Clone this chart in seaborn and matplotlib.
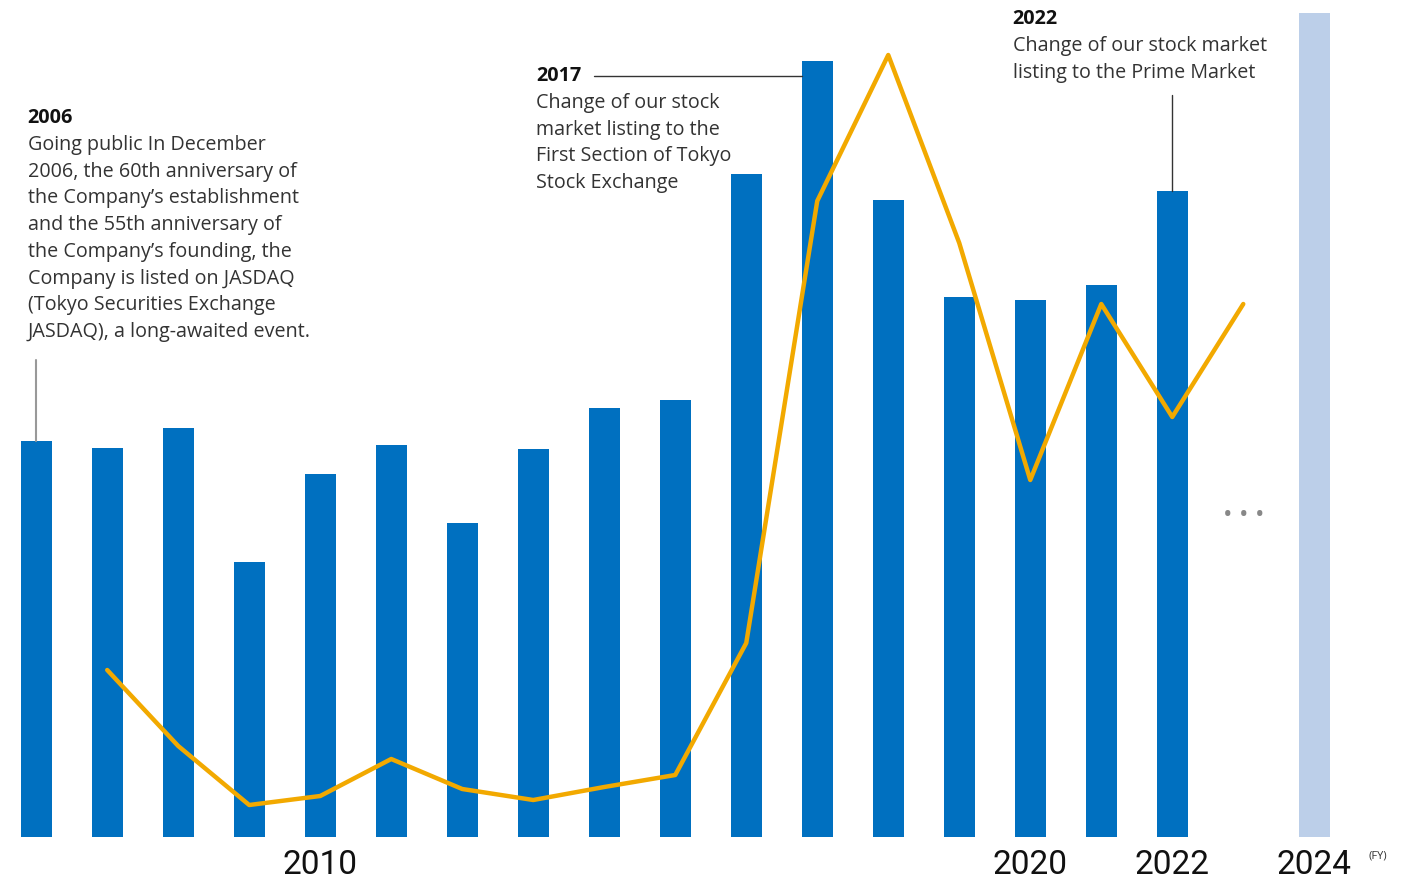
import matplotlib
matplotlib.use("Agg")
import numpy as np
import pandas as pd
import seaborn as sns
from matplotlib import pyplot as plt

# bars (relative heights)
bar_years = [2006, 2007, 2008, 2009, 2010, 2011, 2012, 2013, 2014, 2015,
             2016, 2017, 2018, 2019, 2020, 2021, 2022, 2024]
bar_values = [396, 389, 409, 275, 363, 392, 314, 388, 429, 437,
              663, 776, 637, 540, 537, 552, 646, 824]
bar_kind = ['actual'] * 17 + ['target']

# orange line
line_years = [2007, 2008, 2009, 2010, 2011, 2012, 2013, 2014, 2015,
              2016, 2017, 2018, 2019, 2020, 2021, 2022, 2023]
line_values = [167, 91, 32, 41, 78, 48, 37, 50, 62,
               194, 636, 782, 594, 357, 533, 420, 533]

tick_years = [2010, 2020, 2022, 2024]

blue = '#0070c0'
light = '#bccfe9'
orange = '#f2a900'

sns.set_style('white')
plt.rcParams['font.family'] = ['Open Sans', 'DejaVu Sans']

fig = plt.figure(figsize=(14.08, 8.81), dpi=100)
ax = fig.add_axes([0, 44 / 881, 1, 837 / 881])

df = pd.DataFrame({'year': bar_years, 'value': bar_values, 'kind': bar_kind})
sns.barplot(data=df, x='year', y='value', hue='kind', native_scale=True,
            dodge=False, width=0.44, palette={'actual': blue, 'target': light},
            saturation=1, legend=False, ax=ax, linewidth=0)
sns.lineplot(x=line_years, y=line_values, color=orange, lw=3.2, ax=ax)

ax.set_xlim(2005.49, 2025.32)
ax.set_ylim(0, 837)
sns.despine(ax=ax, left=True, bottom=True)
ax.set_yticks([])
ax.set_xticks(tick_years)
ax.set_xticklabels([str(y) for y in tick_years], fontsize=24,
                   family=['Roboto', 'DejaVu Sans'], color='#111111')
ax.tick_params(axis='x', length=0, pad=9)
ax.set_xlabel('')
ax.set_ylabel('')
ax.text(2024.9, -19, '(FY)', fontsize=8, color='#333333', ha='center', va='center')

# "..." after 2022
ax.text(2023, 321, '\u2022 \u2022 \u2022', fontsize=18, color='#888888',
        ha='center', va='center')

# annotations
fs = 14.2
txt = '#333333'
ax.plot([2006, 2006], [396, 477], color='#999999', lw=1.5)
ax.text(2005.88, 719, '2006', fontsize=fs, weight='bold', color='#111111', va='center')
lines06 = ['Going public In December', '2006, the 60th anniversary of',
           'the Company\u2019s establishment', 'and the 55th anniversary of',
           'the Company\u2019s founding, the', 'Company is listed on JASDAQ',
           '(Tokyo Securities Exchange', 'JASDAQ), a long-awaited event.']
for i, s in enumerate(lines06):
    ax.text(2005.88, 692 - i * 26.7, s, fontsize=fs, color=txt, va='center')

ax.plot([2013.86, 2016.79], [761, 761], color='#333333', lw=1)
ax.text(2013.04, 761, '2017', fontsize=fs, weight='bold', color='#111111', va='center')
lines17 = ['Change of our stock', 'market listing to the',
           'First Section of Tokyo', 'Stock Exchange']
for i, s in enumerate(lines17):
    ax.text(2013.04, 734 - i * 26.7, s, fontsize=fs, color=txt, va='center')

ax.plot([2022, 2022], [646, 742], color='#333333', lw=1)
ax.text(2019.75, 818, '2022', fontsize=fs, weight='bold', color='#111111', va='center')
lines22 = ['Change of our stock market', 'listing to the Prime Market']
for i, s in enumerate(lines22):
    ax.text(2019.75, 791 - i * 26.7, s, fontsize=fs, color=txt, va='center')

fig.savefig('out.png', dpi=100)
